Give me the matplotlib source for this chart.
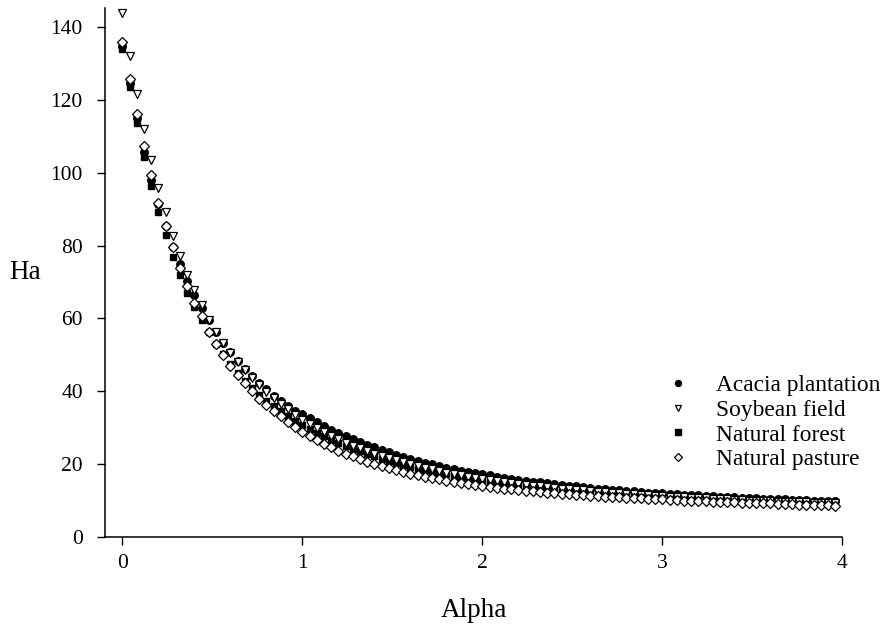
import numpy as np
import matplotlib
matplotlib.use("Agg")
import matplotlib.pyplot as plt

plt.rcParams['font.family'] = ['Liberation Serif', 'DejaVu Serif']

alpha = [round(0.04 * i, 2) for i in range(100)]

acacia = [134.8, 124.5, 114.9, 105.8, 98.0, 91.4, 85.3, 79.6, 74.9, 70.4,
          66.4, 62.8, 59.6, 56.3, 53.3, 50.8, 48.4, 46.1, 44.2, 42.3,
          40.5, 38.8, 37.2, 35.9, 34.7, 33.7, 32.6, 31.5, 30.5, 29.5,
          28.6, 27.7, 26.9, 26.1, 25.3, 24.6, 23.9, 23.2, 22.6, 22.0,
          21.4, 20.9, 20.4, 19.9, 19.4, 19.0, 18.6, 18.2, 17.8, 17.5,
          17.2, 16.9, 16.6, 16.3, 16.0, 15.7, 15.5, 15.2, 15.0, 14.8,
          14.5, 14.3, 14.1, 13.9, 13.7, 13.5, 13.3, 13.2, 13.0, 12.8,
          12.7, 12.5, 12.4, 12.2, 12.1, 12.0, 11.8, 11.7, 11.6, 11.5,
          11.4, 11.3, 11.2, 11.1, 11.0, 10.9, 10.8, 10.7, 10.6, 10.5,
          10.5, 10.4, 10.3, 10.2, 10.2, 10.1, 10.0, 10.0, 9.9, 9.9]

soybean = [143.7, 132.0, 121.5, 111.9, 103.4, 95.7, 89.1, 82.6, 77.0, 72.0,
           67.8, 63.8, 59.6, 56.2, 53.3, 50.6, 48.1, 45.8, 43.7, 41.7,
           39.9, 38.2, 36.6, 35.1, 33.6, 32.2, 31.0, 29.8, 28.7, 27.7,
           26.8, 25.9, 25.1, 24.3, 23.6, 22.9, 22.3, 21.7, 21.1, 20.5,
           20.0, 19.5, 19.0, 18.6, 18.1, 17.7, 17.3, 17.0, 16.6, 16.3,
           16.0, 15.7, 15.4, 15.1, 14.9, 14.6, 14.4, 14.1, 13.9, 13.7,
           13.5, 13.3, 13.1, 12.9, 12.8, 12.6, 12.4, 12.3, 12.1, 12.0,
           11.8, 11.7, 11.6, 11.4, 11.3, 11.2, 11.1, 11.0, 10.9, 10.8,
           10.7, 10.6, 10.5, 10.4, 10.3, 10.2, 10.1, 10.0, 10.0, 9.9,
           9.8, 9.7, 9.7, 9.6, 9.5, 9.5, 9.4, 9.3, 9.3, 9.2]

forest = [133.9, 123.4, 113.7, 104.3, 96.4, 89.1, 82.8, 76.9, 71.8, 67.1,
          63.2, 59.5, 56.2, 53.1, 50.1, 47.4, 45.0, 42.8, 40.8, 39.0,
          37.4, 35.9, 34.5, 33.2, 31.9, 30.7, 29.6, 28.6, 27.6, 26.7,
          25.8, 25.0, 24.2, 23.5, 22.8, 22.1, 21.5, 20.9, 20.4, 19.8,
          19.3, 18.8, 18.4, 17.9, 17.5, 17.2, 16.8, 16.5, 16.1, 15.8,
          15.5, 15.2, 15.0, 14.7, 14.5, 14.2, 14.0, 13.8, 13.6, 13.4,
          13.2, 13.0, 12.8, 12.6, 12.5, 12.3, 12.2, 12.0, 11.9, 11.7,
          11.6, 11.5, 11.3, 11.2, 11.1, 11.0, 10.9, 10.8, 10.7, 10.6,
          10.5, 10.4, 10.3, 10.2, 10.1, 10.0, 9.9, 9.8, 9.8, 9.7,
          9.6, 9.5, 9.5, 9.4, 9.3, 9.3, 9.2, 9.2, 9.1, 9.0]

pasture = [135.9, 125.6, 116.0, 107.4, 99.3, 91.8, 85.3, 79.5, 73.7, 68.9,
           64.3, 60.6, 56.3, 53.0, 49.9, 47.0, 44.6, 42.2, 40.0, 38.0,
           36.2, 34.6, 33.1, 31.6, 30.1, 28.8, 27.6, 26.5, 25.5, 24.6,
           23.7, 22.9, 22.1, 21.4, 20.7, 20.1, 19.5, 18.9, 18.4, 17.9,
           17.4, 17.0, 16.6, 16.2, 15.8, 15.4, 15.1, 14.8, 14.5, 14.2,
           13.9, 13.7, 13.5, 13.3, 13.1, 12.9, 12.7, 12.5, 12.3, 12.2,
           12.0, 11.9, 11.7, 11.6, 11.5, 11.3, 11.2, 11.1, 11.0, 10.9,
           10.8, 10.7, 10.6, 10.5, 10.4, 10.3, 10.2, 10.1, 10.0, 10.0,
           9.9, 9.8, 9.7, 9.6, 9.6, 9.5, 9.4, 9.4, 9.3, 9.2,
           9.2, 9.1, 9.0, 9.0, 8.9, 8.8, 8.8, 8.7, 8.7, 8.6]

labels = ["Acacia plantation", "Soybean field", "Natural forest", "Natural pasture"]
xticks = [0, 1, 2, 3, 4]
yticks = [0, 20, 40, 60, 80, 100, 120, 140]

fig = plt.figure(figsize=(8.83, 6.28), dpi=100)
ax = fig.add_axes([105 / 883, 1 - 537 / 628, (842.5 - 105) / 883, (537 - 8) / 628])

ax.plot(alpha, acacia, linestyle='none', marker='o', ms=5.4, mfc='black', mec='black',
        label=labels[0], clip_on=False, zorder=3)
ax.plot(alpha, forest, linestyle='none', marker='s', ms=4.8, mfc='black', mec='black',
        label=labels[2], clip_on=False, zorder=4)
ax.plot(alpha, soybean, linestyle='none', marker='v', ms=5.8, mfc='white', mec='black',
        mew=0.9, label=labels[1], clip_on=False, zorder=5)
ax.plot(alpha, pasture, linestyle='none', marker='D', ms=4.6, mfc='white', mec='black',
        mew=0.9, label=labels[3], clip_on=False, zorder=6)

ax.set_xlim(-0.097, 4.0)
ax.set_ylim(0, 145.2)
ax.set_xticks(xticks)
ax.set_yticks(yticks)
ax.tick_params(axis='both', direction='out', length=6, width=1, labelsize=15.5, colors='black')
ax.tick_params(axis='x', pad=6)
ax.tick_params(axis='y', pad=10)
for s in ['top', 'right']:
    ax.spines[s].set_visible(False)
for s in ['left', 'bottom']:
    ax.spines[s].set_linewidth(1.1)

ax.set_xlabel("Alpha", fontsize=19.5, labelpad=18)
ax.set_ylabel("Ha", fontsize=19.5, rotation=0, labelpad=18, va='center')

handles, labs = ax.get_legend_handles_labels()
order = [labs.index(l) for l in labels]
leg = fig.legend([handles[i] for i in order], [labs[i] for i in order],
                 loc='upper left', bbox_to_anchor=(645 / 883, 1 - 354 / 628),
                 bbox_transform=fig.transFigure, frameon=False,
                 fontsize=16.8, markerscale=0.8, handletextpad=1.15, labelspacing=0.14,
                 handlelength=1.0)

fig.savefig("out.png", dpi=100, facecolor='white')
